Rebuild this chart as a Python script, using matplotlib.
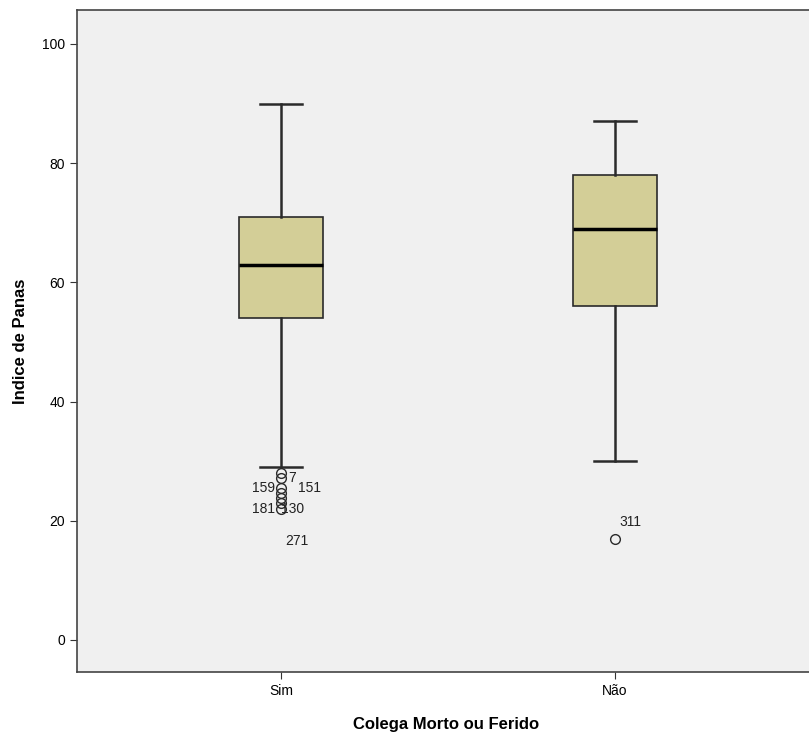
import numpy as np
import matplotlib.pyplot as plt

plt.rcParams['font.family'] = ['Liberation Sans', 'DejaVu Sans']

groups = ['Sim', 'Não']
whis_lo = [29, 30]
q1 = [54, 56]
medians = [63, 69]
q3 = [71, 78]
whis_hi = [90, 87]
fliers = [[28, 27.2, 25.5, 24.7, 23.8, 23, 22], [17]]

# outlier case labels: (group index, x offset, value, text, ha)
flier_labels = [
    (0, 0.021, 27.2, '7', 'left'),
    (0, -0.018, 25.5, '159', 'right'),
    (0, 0.051, 25.5, '151', 'left'),
    (0, -0.018, 22, '181', 'right'),
    (0, 0.0, 22, '130', 'left'),
    (0, 0.012, 16.6, '271', 'left'),
    (1, 0.012, 19.8, '311', 'left'),
]

stats = []
for i, g in enumerate(groups):
    stats.append(dict(label=g, whislo=whis_lo[i], q1=q1[i], med=medians[i],
                      q3=q3[i], whishi=whis_hi[i], fliers=fliers[i]))

fig = plt.figure(figsize=(8.09, 7.43), dpi=100)
# right edge of the plot frame runs past the picture, as in the original
ax = fig.add_axes([77 / 809, 71 / 743, (815 - 77) / 809, (672 - 10) / 743])
ax.set_facecolor('#F0F0F0')

line_c = '#2a2a2a'
ax.bxp(stats, positions=[0, 1], widths=0.25, patch_artist=True,
       boxprops=dict(facecolor='#D3CE97', edgecolor=line_c, linewidth=1.2),
       medianprops=dict(color='black', linewidth=2.5),
       whiskerprops=dict(color=line_c, linewidth=1.8),
       capprops=dict(color=line_c, linewidth=1.8),
       capwidths=0.125,
       flierprops=dict(marker='o', markerfacecolor='none', markeredgecolor=line_c,
                       markersize=7, markeredgewidth=1.0))

for gi, dx, y, txt, ha in flier_labels:
    ax.text(gi + dx, y, txt, ha=ha, va='center', fontsize=10, color='#222222')

ax.set_xlim(-0.611, 1.599)
ax.set_ylim(-5.37, 105.7)
ax.set_yticks([0, 20, 40, 60, 80, 100])
ax.set_xticks([0, 1])
ax.set_xticklabels(groups)
ax.tick_params(axis='both', labelsize=10, color='#333333', length=5)
ax.set_ylabel('Indice de Panas', fontsize=12, fontweight='bold', labelpad=10)
ax.set_xlabel('Colega Morto ou Ferido', fontsize=12, fontweight='bold', labelpad=14)
for s in ax.spines.values():
    s.set_color('#444444')
    s.set_linewidth(1.2)

fig.savefig('out.png', dpi=100)
